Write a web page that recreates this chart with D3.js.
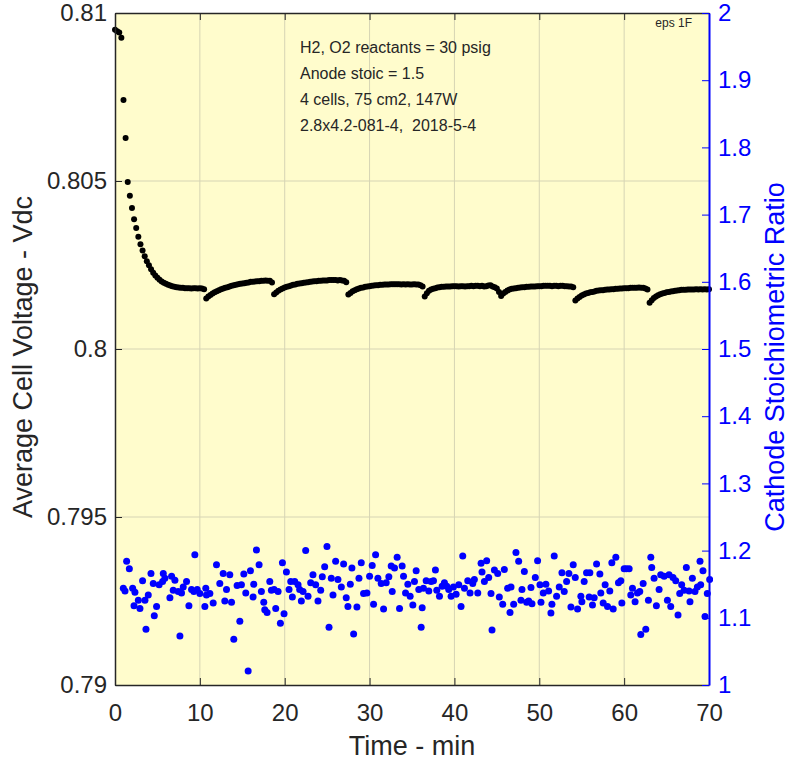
<!DOCTYPE html>
<html><head><meta charset="utf-8">
<script src="https://cdn.jsdelivr.net/npm/d3@7"></script>
<style>body{margin:0;background:#fff}svg{display:block}text{font-family:"Liberation Sans",Arial,sans-serif;white-space:pre}</style>
</head><body><svg id="c" width="792" height="761"></svg>
<script>
const xTicks=[0,10,20,30,40,50,60,70];
const leftTicks=[0.79,0.795,0.8,0.805,0.81];
const leftTickLabels=["0.79","0.795","0.8","0.805","0.81"];
const rightTicks=[1,1.1,1.2,1.3,1.4,1.5,1.6,1.7,1.8,1.9,2];
const rightTickLabels=["1","1.1","1.2","1.3","1.4","1.5","1.6","1.7","1.8","1.9","2"];
const noteLines=["H2, O2 reactants = 30 psig","Anode stoic = 1.5","4 cells, 75 cm2, 147W","2.8x4.2-081-4,  2018-5-4"];
const cornerNote="eps 1F";
const xLabel="Time - min", leftLabel="Average Cell Voltage - Vdc", rightLabel="Cathode Stoichiometric Ratio";

const voltTime=[0,0.25,0.5,0.75,1,1.25,1.5,1.75,2,2.25,2.5,2.75,3,3.25,3.5,3.75,4,4.25,4.5,4.75,5,5.25,5.5,5.75,6,6.25,6.5,6.75,7,7.25,7.5,7.75,8,8.25,8.5,8.75,9,9.25,9.5,9.75,10,10.25,10.5,10.75,11,11.25,11.5,11.75,12,12.25,12.5,12.75,13,13.25,13.5,13.75,14,14.25,14.5,14.75,15,15.25,15.5,15.75,16,16.25,16.5,16.75,17,17.25,17.5,17.75,18,18.25,18.5,18.75,19,19.25,19.5,19.75,20,20.25,20.5,20.75,21,21.25,21.5,21.75,22,22.25,22.5,22.75,23,23.25,23.5,23.75,24,24.25,24.5,24.75,25,25.25,25.5,25.75,26,26.25,26.5,26.75,27,27.25,27.5,27.75,28,28.25,28.5,28.75,29,29.25,29.5,29.75,30,30.25,30.5,30.75,31,31.25,31.5,31.75,32,32.25,32.5,32.75,33,33.25,33.5,33.75,34,34.25,34.5,34.75,35,35.25,35.5,35.75,36,36.25,36.5,36.75,37,37.25,37.5,37.75,38,38.25,38.5,38.75,39,39.25,39.5,39.75,40,40.25,40.5,40.75,41,41.25,41.5,41.75,42,42.25,42.5,42.75,43,43.25,43.5,43.75,44,44.25,44.5,44.75,45,45.25,45.5,45.75,46,46.25,46.5,46.75,47,47.25,47.5,47.75,48,48.25,48.5,48.75,49,49.25,49.5,49.75,50,50.25,50.5,50.75,51,51.25,51.5,51.75,52,52.25,52.5,52.75,53,53.25,53.5,53.75,54,54.25,54.5,54.75,55,55.25,55.5,55.75,56,56.25,56.5,56.75,57,57.25,57.5,57.75,58,58.25,58.5,58.75,59,59.25,59.5,59.75,60,60.25,60.5,60.75,61,61.25,61.5,61.75,62,62.25,62.5,62.75,63,63.25,63.5,63.75,64,64.25,64.5,64.75,65,65.25,65.5,65.75,66,66.25,66.5,66.75,67,67.25,67.5,67.75,68,68.25,68.5,68.75,69,69.25,69.5,69.75,70];
const voltValues=[0.80950,0.80946,0.80942,0.80926,0.80741,0.80628,0.80497,0.80456,0.80420,0.80386,0.80360,0.80334,0.80312,0.80293,0.80276,0.80261,0.80249,0.80237,0.80227,0.80219,0.80212,0.80206,0.80201,0.80197,0.80194,0.80191,0.80189,0.80187,0.80185,0.80184,0.80183,0.80182,0.80182,0.80181,0.80181,0.80181,0.80180,0.80181,0.80181,0.80180,0.80181,0.80180,0.80178,0.80150,0.80156,0.80161,0.80165,0.80169,0.80172,0.80175,0.80178,0.80180,0.80182,0.80184,0.80186,0.80188,0.80190,0.80191,0.80193,0.80194,0.80195,0.80196,0.80197,0.80198,0.80200,0.80200,0.80201,0.80202,0.80202,0.80203,0.80203,0.80204,0.80203,0.80203,0.80198,0.80163,0.80168,0.80173,0.80177,0.80180,0.80183,0.80185,0.80187,0.80189,0.80191,0.80192,0.80194,0.80195,0.80196,0.80197,0.80198,0.80199,0.80200,0.80201,0.80202,0.80202,0.80203,0.80203,0.80204,0.80204,0.80204,0.80205,0.80205,0.80205,0.80205,0.80204,0.80205,0.80204,0.80203,0.80199,0.80162,0.80167,0.80172,0.80175,0.80178,0.80180,0.80182,0.80183,0.80185,0.80186,0.80187,0.80188,0.80189,0.80190,0.80190,0.80191,0.80191,0.80192,0.80192,0.80192,0.80193,0.80193,0.80193,0.80193,0.80193,0.80192,0.80193,0.80192,0.80193,0.80192,0.80192,0.80193,0.80192,0.80192,0.80190,0.80186,0.80156,0.80166,0.80173,0.80177,0.80179,0.80181,0.80183,0.80184,0.80185,0.80185,0.80186,0.80186,0.80186,0.80187,0.80187,0.80187,0.80186,0.80187,0.80187,0.80186,0.80187,0.80187,0.80188,0.80187,0.80188,0.80188,0.80187,0.80188,0.80186,0.80187,0.80189,0.80190,0.80186,0.80184,0.80180,0.80170,0.80158,0.80165,0.80170,0.80174,0.80177,0.80179,0.80180,0.80181,0.80182,0.80183,0.80184,0.80184,0.80185,0.80185,0.80186,0.80186,0.80186,0.80187,0.80187,0.80187,0.80188,0.80188,0.80188,0.80188,0.80187,0.80188,0.80188,0.80187,0.80188,0.80188,0.80187,0.80187,0.80186,0.80186,0.80184,0.80144,0.80150,0.80155,0.80159,0.80162,0.80165,0.80167,0.80169,0.80170,0.80171,0.80173,0.80174,0.80175,0.80175,0.80176,0.80177,0.80177,0.80178,0.80178,0.80179,0.80179,0.80180,0.80180,0.80181,0.80181,0.80181,0.80182,0.80182,0.80182,0.80182,0.80183,0.80182,0.80182,0.80180,0.80177,0.80138,0.80145,0.80152,0.80156,0.80160,0.80163,0.80165,0.80167,0.80169,0.80170,0.80171,0.80172,0.80173,0.80174,0.80175,0.80176,0.80176,0.80176,0.80177,0.80177,0.80177,0.80177,0.80178,0.80177,0.80178,0.80177,0.80178,0.80177,0.80178];

const stoicTime=[0.98,1.18,1.37,1.69,2.08,2.24,2.35,2.75,2.94,3.25,3.53,3.65,3.92,4.24,4.51,4.63,4.9,5.2,5.61,5.69,5.88,6.47,6.67,6.86,7.06,7.45,7.65,7.84,8.04,8.43,8.71,9.02,9.29,9.41,9.69,10.0,10.59,10.7,10.78,11.18,11.57,11.96,12.35,12.75,12.94,13.14,13.53,13.73,14.0,14.39,14.71,14.9,15.18,15.41,15.69,15.96,16.27,16.35,16.67,16.98,17.25,17.53,17.65,17.92,18.24,18.43,18.75,18.94,19.22,19.49,19.73,19.92,20.2,20.51,20.71,20.9,21.18,21.57,21.76,21.96,22.16,22.47,22.75,23.06,23.33,23.65,23.92,24.24,24.43,24.71,24.98,25.22,25.49,25.69,26.0,26.27,26.67,26.94,27.25,27.45,27.73,27.92,28.12,28.51,28.75,29.02,29.29,29.69,30.0,30.31,30.47,30.71,30.98,31.37,31.65,31.96,32.27,32.55,32.67,32.94,33.25,33.53,33.84,34.0,34.24,34.51,34.78,35.1,35.29,35.49,35.8,36.08,36.2,36.35,36.67,36.98,37.25,37.53,37.76,37.92,38.24,38.55,38.82,39.1,39.33,39.61,39.88,40.2,40.51,40.78,40.98,41.18,41.57,41.84,42.16,42.35,42.75,43.14,43.25,43.53,43.8,44.04,44.31,44.43,44.71,45.1,45.29,45.69,45.88,46.27,46.55,46.67,46.98,47.25,47.57,47.84,47.96,48.24,48.51,48.75,49.02,49.14,49.53,49.8,50.08,50.2,50.47,50.78,51.1,51.37,51.49,51.76,52.04,52.35,52.67,52.94,53.22,53.49,53.73,54.0,54.24,54.51,54.9,55.02,55.29,55.57,55.88,55.96,56.27,56.47,56.75,57.14,57.25,57.53,57.76,58.04,58.31,58.55,58.71,59.02,59.33,59.61,59.73,60.0,60.27,60.59,60.78,60.98,61.29,61.57,61.84,61.96,62.24,62.55,62.86,63.14,63.25,63.53,63.8,64.12,64.31,64.71,65.1,65.29,65.49,65.76,66.08,66.35,66.55,66.78,67.06,67.33,67.65,67.76,68.04,68.35,68.63,68.94,69.02,69.29,69.53,69.8,70.08];
const stoicValues=[1.144,1.140,1.184,1.173,1.144,1.118,1.138,1.126,1.114,1.155,1.126,1.083,1.134,1.166,1.151,1.103,1.117,1.149,1.154,1.166,1.159,1.130,1.162,1.141,1.156,1.139,1.073,1.137,1.146,1.154,1.118,1.142,1.139,1.194,1.142,1.136,1.117,1.144,1.134,1.136,1.122,1.179,1.151,1.166,1.125,1.142,1.164,1.123,1.068,1.148,1.095,1.149,1.165,1.137,1.021,1.170,1.131,1.150,1.201,1.179,1.139,1.123,1.112,1.108,1.154,1.141,1.142,1.114,1.139,1.092,1.182,1.106,1.168,1.142,1.154,1.131,1.154,1.149,1.142,1.125,1.139,1.200,1.132,1.152,1.164,1.149,1.125,1.141,1.161,1.176,1.206,1.086,1.159,1.134,1.184,1.157,1.146,1.180,1.130,1.117,1.150,1.174,1.076,1.116,1.159,1.182,1.136,1.137,1.162,1.178,1.120,1.194,1.159,1.151,1.113,1.152,1.161,1.177,1.139,1.174,1.190,1.114,1.177,1.162,1.137,1.150,1.132,1.119,1.154,1.170,1.142,1.086,1.115,1.144,1.155,1.140,1.154,1.155,1.171,1.141,1.132,1.147,1.152,1.147,1.142,1.132,1.146,1.135,1.149,1.117,1.192,1.144,1.155,1.137,1.151,1.157,1.137,1.181,1.168,1.154,1.185,1.160,1.136,1.082,1.171,1.166,1.131,1.120,1.172,1.144,1.108,1.146,1.120,1.197,1.184,1.126,1.142,1.169,1.123,1.125,1.145,1.121,1.160,1.185,1.149,1.123,1.137,1.150,1.140,1.107,1.120,1.192,1.132,1.146,1.167,1.139,1.154,1.166,1.116,1.179,1.160,1.113,1.132,1.124,1.154,1.167,1.131,1.167,1.119,1.130,1.180,1.165,1.137,1.122,1.149,1.117,1.140,1.182,1.113,1.190,1.152,1.155,1.122,1.173,1.173,1.173,1.134,1.144,1.124,1.137,1.139,1.075,1.151,1.083,1.126,1.190,1.175,1.159,1.118,1.142,1.164,1.162,1.126,1.164,1.117,1.160,1.155,1.104,1.136,1.149,1.141,1.175,1.140,1.124,1.159,1.139,1.146,1.184,1.149,1.170,1.102,1.136,1.157];

const L=115,R=709,T=13,B=685;
const svg=d3.select("#c");
const x=d3.scaleLinear([0,70],[L,R]);
const yL=d3.scaleLinear([0.79,0.81],[B,T]);
const yR=d3.scaleLinear([1,2],[B,T]);

svg.append("rect").attr("x",L).attr("y",T).attr("width",R-L).attr("height",B-T).attr("fill","#fffccc");
const grid=svg.append("g").attr("stroke","#d6d4b4").attr("stroke-width",1);
xTicks.slice(1,-1).forEach(t=>grid.append("line").attr("x1",x(t)).attr("x2",x(t)).attr("y1",T).attr("y2",B));
leftTicks.slice(1,-1).forEach(t=>grid.append("line").attr("x1",L).attr("x2",R).attr("y1",yL(t)).attr("y2",yL(t)));

svg.append("clipPath").attr("id","pc").append("rect").attr("x",L-4).attr("y",T-4).attr("width",R-L+8).attr("height",B-T+8);
const pts=svg.append("g").attr("clip-path","url(#pc)");
pts.selectAll("circle.v").data(voltTime).enter().append("circle").attr("class","v")
  .attr("cx",d=>x(d)).attr("cy",(d,i)=>yL(voltValues[i])).attr("r",3).attr("fill","#000");
pts.selectAll("circle.s").data(stoicTime).enter().append("circle").attr("class","s")
  .attr("cx",d=>x(d)).attr("cy",(d,i)=>yR(stoicValues[i])).attr("r",3.5).attr("fill","#0000ff");

const FS=24;
const axB=svg.append("g").attr("transform",`translate(0,${B})`).call(d3.axisBottom(x).tickValues(xTicks).tickSize(-7).tickPadding(19).tickSizeOuter(0));
const axT=svg.append("g").attr("transform",`translate(0,${T})`).call(d3.axisTop(x).tickValues(xTicks).tickSize(-7).tickFormat("").tickSizeOuter(0));
const axL=svg.append("g").attr("transform",`translate(${L},0)`).call(d3.axisLeft(yL).tickValues(leftTicks).tickSize(-7).tickPadding(8).tickFormat((d,i)=>leftTickLabels[i]).tickSizeOuter(0));
const axR=svg.append("g").attr("transform",`translate(${R},0)`).call(d3.axisRight(yR).tickValues(rightTicks).tickSize(-7).tickPadding(9).tickFormat((d,i)=>rightTickLabels[i]).tickSizeOuter(0));
[axB,axT,axL].forEach(a=>{a.select(".domain").attr("stroke","#262626").attr("stroke-width",1.5);a.selectAll(".tick line").attr("stroke","#262626");a.selectAll("text").attr("fill","#262626").attr("font-size",FS).attr("font-family","Liberation Sans, Arial, sans-serif");});
axR.select(".domain").attr("stroke","#0000ff").attr("stroke-width",2);
axR.selectAll(".tick line").attr("stroke","#0000ff");
axR.selectAll("text").attr("fill","#0000ff").attr("font-size",FS).attr("font-family","Liberation Sans, Arial, sans-serif");

svg.append("text").attr("x",(L+R)/2).attr("y",755).attr("text-anchor","middle").attr("font-size",27).attr("fill","#262626").text(xLabel);
svg.append("text").attr("transform",`translate(32,${(T+B)/2+8}) rotate(-90)`).attr("text-anchor","middle").attr("font-size",27).attr("fill","#262626").text(leftLabel);
svg.append("text").attr("transform",`translate(765,${(T+B)/2+8}) rotate(-90)`).attr("text-anchor","middle").attr("dy","0.7em").attr("font-size",27).attr("fill","#0000ff").text(rightLabel);

const nt=svg.append("g").attr("font-size",16).attr("fill","#262626");
noteLines.forEach((s,i)=>nt.append("text").attr("x",300).attr("y",53+i*26).text(s));
svg.append("text").attr("x",692).attr("y",27).attr("text-anchor","end").attr("font-size",12).attr("fill","#262626").text(cornerNote);
</script></body></html>
